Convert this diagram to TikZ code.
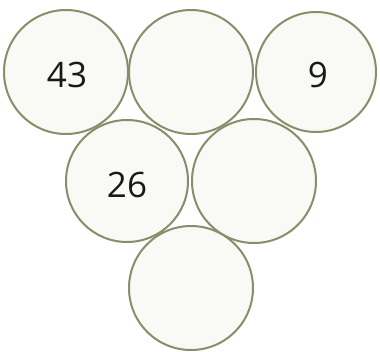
\documentclass[tikz,border=0pt]{standalone}
\usepackage{fontspec}
\setmainfont{Open Sans}
\definecolor{ring}{HTML}{85906A}
\definecolor{inner}{HTML}{F9F9F6}
\begin{document}
\begin{tikzpicture}[x=1pt,y=-1pt,
  disc/.style={circle,draw=ring,fill=inner,line width=2pt,minimum size=124pt,inner sep=0pt},
  num/.style={font=\fontsize{35}{38}\selectfont,text=black!90}]
\useasboundingbox[fill=white] (0,0) rectangle (380,351);
\node[disc] (a) at (66,72) {};
\node[disc] (b) at (191,72) {};
\node[disc,minimum size=120pt] (c) at (316,72) {};
\node[disc,minimum size=122pt] (d) at (127,181) {};
\node[disc] (e) at (254,181) {};
\node[disc] (f) at (191,288) {};
\node[num] (ta) at (67,75) {43};
\node[num] (tc) at (318,75) {9};
\node[num] (td) at (127,185) {26};
\end{tikzpicture}
\end{document}
